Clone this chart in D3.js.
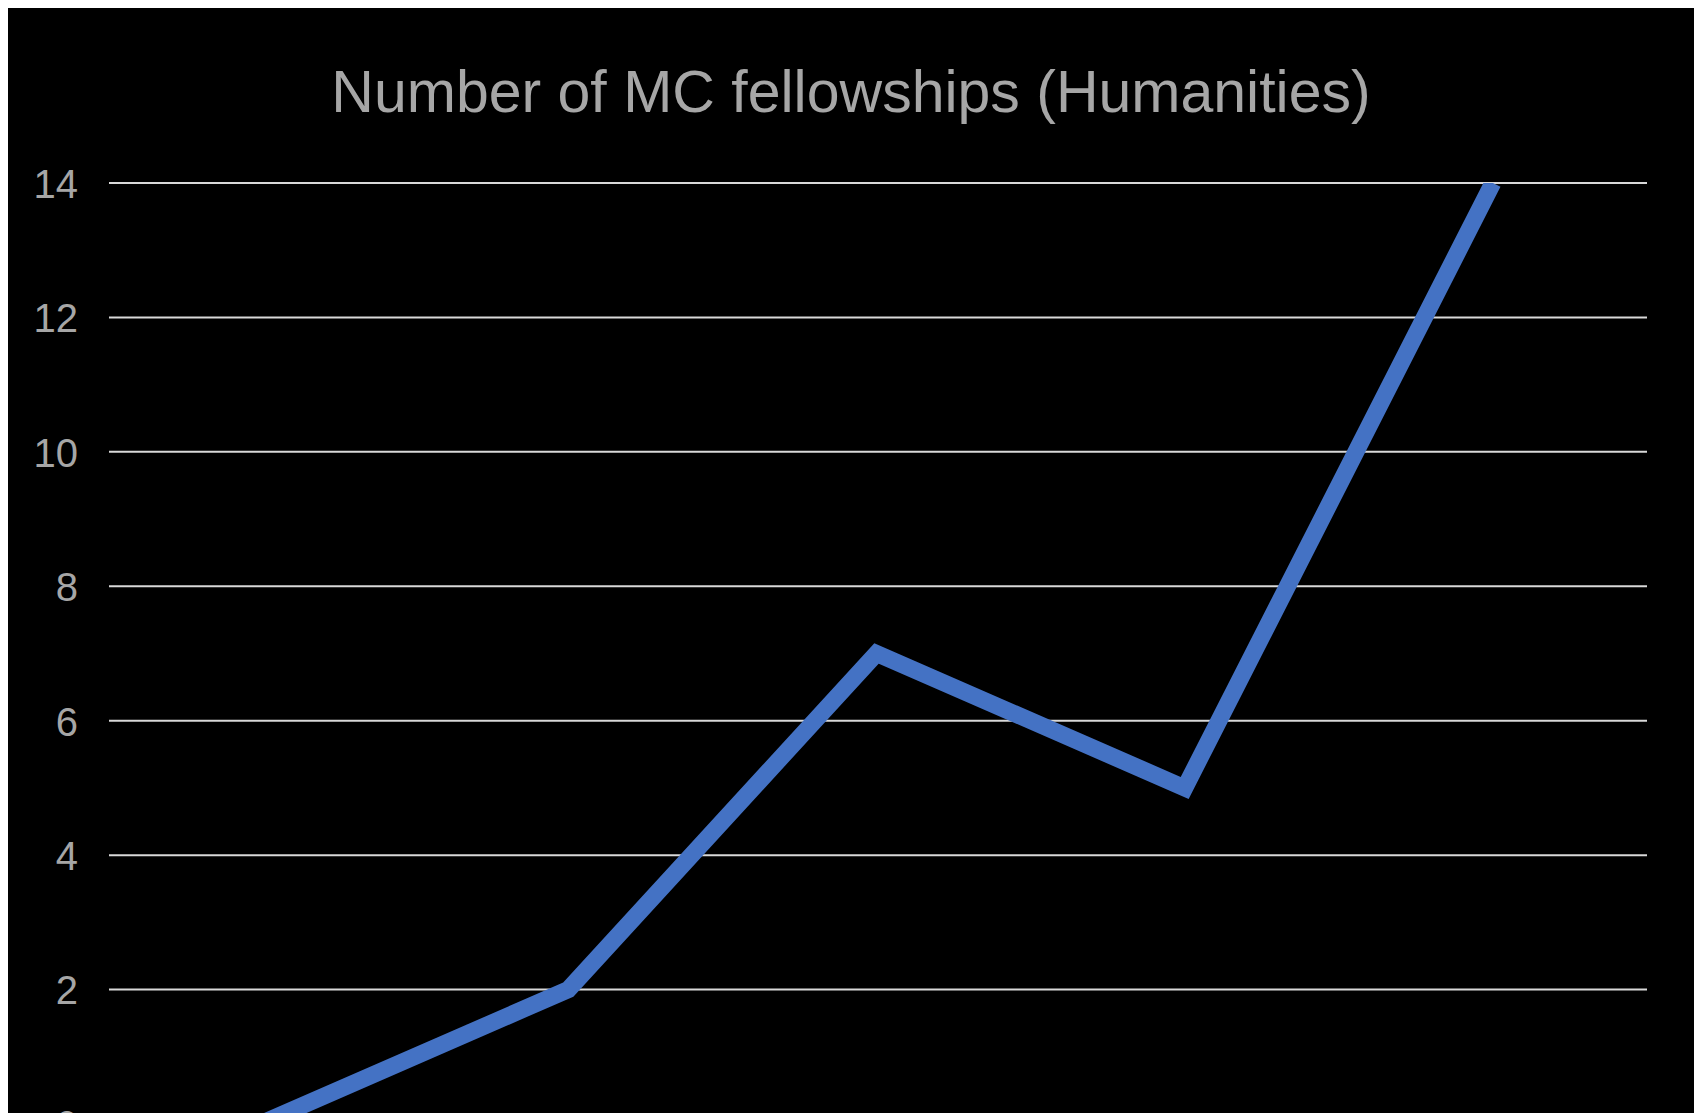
<!DOCTYPE html>
<html>
<head>
<meta charset="utf-8">
<script src="https://cdn.jsdelivr.net/npm/d3@7"></script>
<style>
  html, body { margin: 0; padding: 0; background: #ffffff; overflow: hidden; }
  svg { display: block; }
</style>
</head>
<body>
<div id="chart"></div>
<script>
// Chart data (x labels fall below the visible crop)
const categories = ['1', '2', '3', '4', '5'];
const fellowships = [0, 2, 7, 5, 14];
const yTicks = [0, 2, 4, 6, 8, 10, 12, 14];
const titleText = 'Number of MC fellowships (Humanities)';

const width = 1699;
const height = 1113;

const svg = d3.select('#chart').append('svg')
    .attr('width', width)
    .attr('height', height);

// Black chart panel with a thin white margin
svg.append('rect')
    .attr('x', 8)
    .attr('y', 8)
    .attr('width', 1686)
    .attr('height', height)
    .attr('fill', '#000000');

// Plot area
const plotLeft = 106, plotRight = 1647, plotTop = 183, plotBottom = 1124;

const x = d3.scalePoint()
    .domain(categories)
    .range([plotLeft, plotRight])
    .padding(0.5);

const y = d3.scaleLinear()
    .domain([0, 14])
    .range([plotBottom, plotTop]);

// Title
svg.append('text')
    .attr('x', (332 + 1370) / 2)
    .attr('y', 112)
    .attr('text-anchor', 'middle')
    .style('font-family', '"Liberation Sans", Arial, sans-serif')
    .style('font-size', '59px')
    .style('fill', '#a6a6a6')
    .text(titleText);

// Gridlines
svg.append('g')
    .selectAll('line')
    .data(yTicks)
    .enter().append('line')
    .attr('x1', 109)
    .attr('x2', plotRight)
    .attr('y1', d => y(d))
    .attr('y2', d => y(d))
    .style('stroke', '#d9d9d9')
    .style('stroke-width', 2);

// Y axis labels
const yAxis = d3.axisLeft(y).tickValues(yTicks).tickSize(0).tickPadding(0);
const yg = svg.append('g')
    .attr('transform', `translate(${78},0)`)
    .call(yAxis);
yg.select('.domain').remove();
yg.selectAll('text')
    .style('font-family', '"Liberation Sans", Arial, sans-serif')
    .style('font-size', '40px')
    .style('fill', '#a6a6a6')
    .attr('dy', '0.36em');

// Clip the line to the plot area
svg.append('clipPath')
    .attr('id', 'plot-clip')
    .append('rect')
    .attr('x', 8)
    .attr('y', plotTop)
    .attr('width', 1686)
    .attr('height', plotBottom - plotTop);

const line = d3.line()
    .x((d, i) => x(categories[i]))
    .y(d => y(d));

svg.append('path')
    .datum(fellowships)
    .attr('clip-path', 'url(#plot-clip)')
    .attr('d', line)
    .style('fill', 'none')
    .style('stroke', '#4472c4')
    .style('stroke-width', 17)
    .style('stroke-linejoin', 'miter')
    .style('stroke-linecap', 'butt');
</script>
</body>
</html>
